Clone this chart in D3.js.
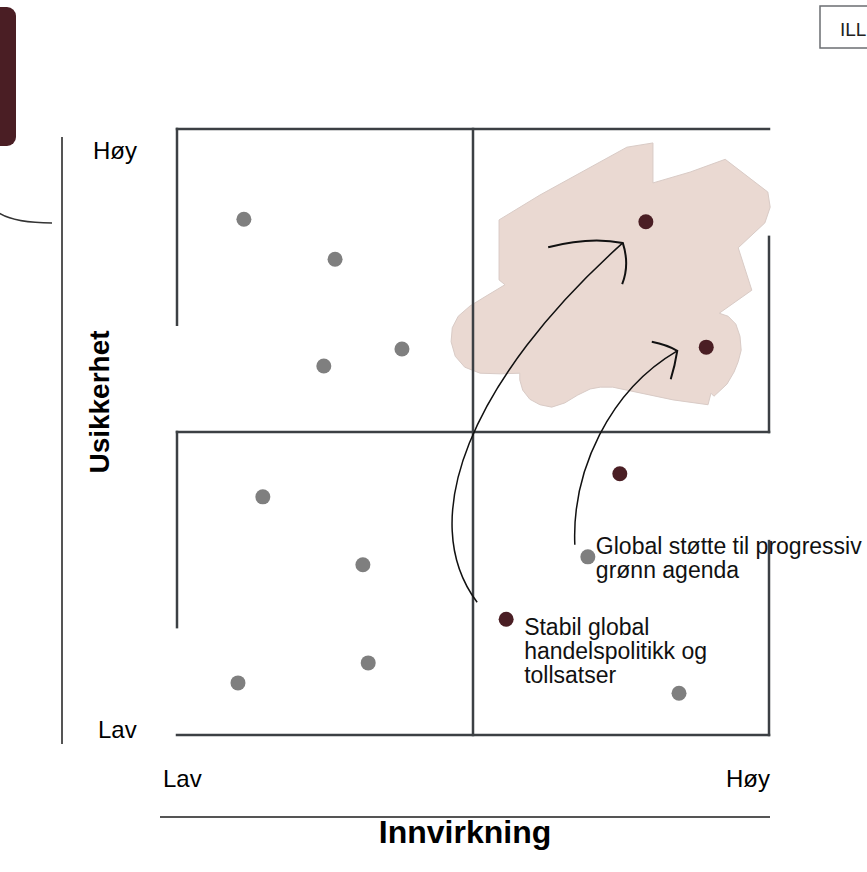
<!DOCTYPE html>
<html>
<head>
<meta charset="utf-8">
<script src="https://cdn.jsdelivr.net/npm/d3@7"></script>
<style>
  html, body { margin: 0; padding: 0; background: #fff; overflow: hidden; }
  svg { display: block; font-family: 'Liberation Sans', Arial, sans-serif; }
</style>
</head>
<body>
<svg id="chart" width="867" height="872"></svg>
<script>
/* eslint-env browser */
/* global d3 */

// axis labels
const xTicks = ['Lav', 'Høy']
const yTicks = ['Lav', 'Høy']
const xTitle = 'Innvirkning'
const yTitle = 'Usikkerhet'

// scores 0-100 (impact, uncertainty)
const greyX = [11.3, 26.7, 38.0, 24.8, 14.5, 31.4, 32.3, 10.3, 69.4, 84.8]
const greyY = [85.1, 78.5, 63.7, 60.9, 39.3, 28.1, 11.9, 8.6, 29.4, 6.9]
const keyX = [79.2, 89.4, 74.8, 55.6]
const keyY = [84.7, 64.0, 43.1, 19.1]

const labelled = [
  { x: 69.4, y: 29.4, lines: ['Global støtte til progressiv', 'grønn agenda'] },
  { x: 55.6, y: 19.1, lines: ['Stabil global', 'handelspolitikk og', 'tollsatser'] }
]

// highlighted zone outline (score space)
const zoneX = [54.4, 61.3, 76.0, 80.4, 80.4, 86.7, 92.6, 99.8, 100.2, 99.3, 94.8, 97.1, 91.6, 93.1, 94.4, 95.1, 95.3, 94.8, 94.1, 92.9, 91.7, 90.7, 90.2, 89.7, 83.8, 73.6, 71.5, 69.8, 67.7, 65.5, 63.3, 61.3, 59.6, 58.4, 57.9, 57.9, 54.6, 51.2, 48.6, 47.0, 46.3, 46.5, 47.5, 49.5, 52.0, 55.4, 54.4]
const zoneY = [85.0, 89.1, 97.0, 97.7, 91.1, 92.9, 95.0, 89.6, 87.1, 84.5, 80.4, 73.4, 69.6, 69.1, 67.8, 65.8, 63.5, 61.6, 59.9, 57.9, 56.8, 55.9, 56.4, 54.5, 55.3, 57.4, 57.4, 57.1, 56.1, 54.8, 54.1, 54.5, 55.4, 56.9, 58.6, 59.7, 59.6, 59.7, 60.7, 62.5, 64.9, 67.2, 69.1, 70.8, 72.3, 74.3, 75.1]

// movement arrows: bezier control points + head
const arrows = [
  {
    curve: [[50.7, 21.9], [40.2, 35.5], [49.5, 58.6], [75.3, 81.2]],
    head: [[62.7, 80.5], [69.8, 82.3], [75.3, 81.2], [76.5, 77.6], [75.2, 74.4]]
  },
  {
    curve: [[67.2, 31.4], [66.7, 43.7], [73.1, 56.9], [84.5, 63.4]],
    head: [[80.2, 64.9], [82.8, 64.4], [84.5, 63.4], [84.1, 60.9], [83.4, 58.7]]
  }
]

const svg = d3.select('#chart')
const x = d3.scaleLinear().domain([0, 100]).range([177, 769])
const y = d3.scaleLinear().domain([0, 100]).range([735, 129])

const lineCol = '#3c4044'

// decoration top-left
svg.append('rect')
  .attr('x', -20).attr('y', 7).attr('width', 36).attr('height', 139)
  .attr('rx', 9).attr('fill', '#4a1e24')
svg.append('path')
  .attr('d', 'M -4 211 C 6 219, 22 223, 52 223')
  .attr('fill', 'none').attr('stroke', '#333').attr('stroke-width', 1.5)

// tag top-right
svg.append('rect')
  .attr('x', 820).attr('y', 6).attr('width', 70).attr('height', 42)
  .attr('fill', '#fff').attr('stroke', '#6b6e72').attr('stroke-width', 1.5)
svg.append('text')
  .attr('x', 840).attr('y', 36)
  .style('font-size', '19px').attr('fill', '#222')
  .text('ILL')

// zone
const zone = zoneX.map((v, i) => [x(v), y(zoneY[i])])
svg.append('path')
  .attr('d', d3.line().curve(d3.curveLinearClosed)(zone))
  .attr('fill', '#ead9d2').attr('stroke', '#d9cbc6').attr('stroke-width', 1)

// quadrant frame
const segs = [
  [[0, 100], [100, 100]],
  [[0, 100], [0, 67.7]],
  [[50, 100], [50, 0]],
  [[100, 82.2], [100, 50]],
  [[0, 50], [100, 50]],
  [[0, 50], [0, 17.8]],
  [[100, 32.0], [100, 0]],
  [[0, 0], [100, 0]]
]
svg.append('g').selectAll('line')
  .data(segs)
  .enter().append('line')
  .attr('x1', d => x(d[0][0])).attr('y1', d => y(d[0][1]))
  .attr('x2', d => x(d[1][0])).attr('y2', d => y(d[1][1]))
  .attr('stroke', lineCol).attr('stroke-width', 2.5)
  .attr('stroke-linecap', 'square')

// outer axis lines
svg.append('line')
  .attr('x1', 62).attr('x2', 62).attr('y1', 137).attr('y2', 744)
  .attr('stroke', '#555').attr('stroke-width', 2)
svg.append('line')
  .attr('x1', 160).attr('x2', 770).attr('y1', 817).attr('y2', 817)
  .attr('stroke', '#555').attr('stroke-width', 2)

// tick labels
svg.append('text').attr('x', 93).attr('y', 159)
  .style('font-size', '24px').text(yTicks[1])
svg.append('text').attr('x', 98).attr('y', 738)
  .style('font-size', '24px').text(yTicks[0])
svg.append('text').attr('x', 163).attr('y', 787)
  .style('font-size', '24px').text(xTicks[0])
svg.append('text').attr('x', 770).attr('y', 787).attr('text-anchor', 'end')
  .style('font-size', '24px').text(xTicks[1])

// titles
svg.append('text')
  .attr('x', 465).attr('y', 843).attr('text-anchor', 'middle')
  .style('font-size', '32px').style('font-weight', 'bold')
  .text(xTitle)
svg.append('text')
  .attr('transform', 'translate(109,402) rotate(-90)')
  .attr('text-anchor', 'middle')
  .style('font-size', '28px').style('font-weight', 'bold')
  .text(yTitle)

// points
svg.append('g').selectAll('circle')
  .data(greyX.map((v, i) => [v, greyY[i]]))
  .enter().append('circle')
  .attr('cx', d => x(d[0])).attr('cy', d => y(d[1]))
  .attr('r', 7.5).attr('fill', '#7f7f7f')

svg.append('g').selectAll('circle')
  .data(keyX.map((v, i) => [v, keyY[i]]))
  .enter().append('circle')
  .attr('cx', d => x(d[0])).attr('cy', d => y(d[1]))
  .attr('r', 7.5).attr('fill', '#4a1e24')

// arrows
const arrowG = svg.append('g')
  .attr('fill', 'none').attr('stroke', '#111').attr('stroke-width', 1.5)
arrows.forEach(a => {
  const c = a.curve.map(p => [x(p[0]), y(p[1])])
  arrowG.append('path')
    .attr('d', `M ${c[0]} C ${c[1]} ${c[2]} ${c[3]}`)
  const h = a.head.map(p => [x(p[0]), y(p[1])])
  arrowG.append('path')
    .attr('stroke-width', 2)
    .attr('d', `M ${h[0]} Q ${h[1]} ${h[2]} Q ${h[3]} ${h[4]}`)
})

// labels next to points
const offsets = [[8, -3], [18, 16]]
labelled.forEach((l, i) => {
  const t = svg.append('text')
    .attr('x', x(l.x) + offsets[i][0])
    .attr('y', y(l.y) + offsets[i][1])
    .style('font-size', '23px').attr('fill', '#111')
  l.lines.forEach((s, j) => {
    t.append('tspan')
      .attr('x', x(l.x) + offsets[i][0])
      .attr('dy', j === 0 ? 0 : 24)
      .text(s)
  })
})
</script>
</body>
</html>
